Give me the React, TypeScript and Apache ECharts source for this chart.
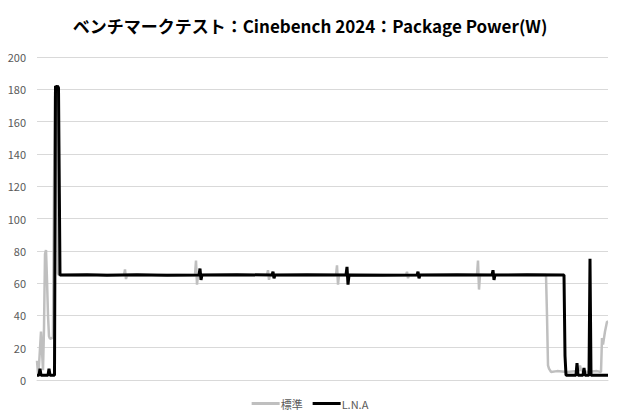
import React, { useEffect, useRef } from "react";
import * as echarts from "echarts";

const titleText = "ベンチマークテスト：Cinebench 2024：Package Power(W)";
const seriesNames = ["標準", "L.N.A"];
const yTicks = { min: 0, max: 200, interval: 20 };

// [sample position, watts]
const standardData: [number, number][] = [
  [0, 12], [1, 4], [2, 9], [4, 30], [5, 18], [6, 6], [7, 32], [8, 78], [9, 80.5], [10, 62],
  [11, 40], [12, 27], [13, 25.5], [15, 26], [16, 26], [17, 120], [18, 178], [20, 180], [21, 66],
  [22, 65], [40, 64.8], [60, 65.2], [87, 65], [88, 68.5], [89, 62.5], [90, 65], [120, 64.8],
  [140, 65.2], [158, 65], [159, 74], [160, 59], [161, 65], [200, 65.2], [230, 65], [231, 68],
  [232, 62], [233, 65], [270, 64.8], [299, 65], [300, 71], [301, 59], [302, 65], [340, 65.2],
  [369, 65], [370, 67], [371, 63], [372, 65], [410, 64.8], [440, 65], [441, 74], [442, 56],
  [443, 65], [480, 65.2], [509, 65], [510, 40], [511, 9], [512, 7], [514, 5], [520, 5.5],
  [530, 5], [540, 5.5], [542, 6], [543, 9], [544, 6], [550, 5], [560, 5.5], [564, 5], [565, 26],
  [566, 22], [568, 30], [570, 36], [571, 36],
];

const lnaData: [number, number][] = [
  [0, 3], [2, 3], [3, 7], [4, 3], [11, 3], [12, 7], [13, 3], [17.5, 3], [18.5, 182], [19.5, 181.5],
  [20.5, 182], [21.5, 181], [23, 65], [50, 65.2], [70, 64.9], [100, 65.2], [130, 64.9], [162, 65], [163, 69],
  [164, 62], [165, 65], [200, 65.2], [235, 65], [236, 67], [237, 63], [238, 65], [270, 65.1],
  [309, 65], [310, 70], [311, 59], [312, 65], [345, 64.9], [380, 65], [381, 67], [382, 63],
  [383, 65], [420, 65.2], [455, 65], [456, 68], [457, 62], [458, 65], [490, 65.1], [527, 65],
  [528, 15], [529, 3], [539, 3], [540, 10.5], [541, 3], [546, 3], [547, 7.5], [548, 3],
  [552, 3], [553, 75], [554, 3], [571, 3],
];

export default function App() {
  const ref = useRef<HTMLDivElement>(null);
  useEffect(() => {
    if (!ref.current) return;
    const chart = echarts.init(ref.current, undefined, { renderer: "svg" });
    const font = "'Noto Sans CJK JP', 'Noto Sans', sans-serif";
    chart.setOption({
      animation: false,
      backgroundColor: "#ffffff",
      title: {
        text: titleText,
        left: "center",
        top: 12,
        textStyle: { fontSize: 17, fontWeight: "bold", color: "#000000", fontFamily: font },
      },
      legend: {
        bottom: 6,
        left: "center",
        icon: "rect",
        itemWidth: 28,
        itemHeight: 3,
        itemGap: 10,
        textStyle: { fontSize: 11, color: "#595959", fontFamily: font, padding: [0, 0, 0, -4] },
        data: seriesNames,
      },
      grid: { left: 37, right: 12, top: 57, bottom: 40 },
      xAxis: {
        type: "value",
        min: 0,
        max: 571,
        axisLabel: { show: false },
        axisTick: { show: false },
        splitLine: { show: false },
        axisLine: { show: true, lineStyle: { color: "#d9d9d9", width: 1 } },
      },
      yAxis: {
        type: "value",
        min: yTicks.min,
        max: yTicks.max,
        interval: yTicks.interval,
        axisLabel: { color: "#595959", fontSize: 11, fontFamily: font, margin: 11 },
        axisLine: { show: false },
        axisTick: { show: false },
        splitLine: { lineStyle: { color: "#d9d9d9", width: 1 } },
      },
      series: [
        {
          name: seriesNames[0],
          type: "line",
          data: standardData,
          symbol: "none",
          lineStyle: { color: "#bfbfbf", width: 2.5 },
          itemStyle: { color: "#bfbfbf" },
        },
        {
          name: seriesNames[1],
          type: "line",
          data: lnaData,
          symbol: "none",
          lineStyle: { color: "#000000", width: 3 },
          itemStyle: { color: "#000000" },
        },
      ],
    });
    return () => chart.dispose();
  }, []);
  return (
    <div
      ref={ref}
      style={{ position: "fixed", left: 0, top: 0, width: 620, height: 420 }}
    />
  );
}
